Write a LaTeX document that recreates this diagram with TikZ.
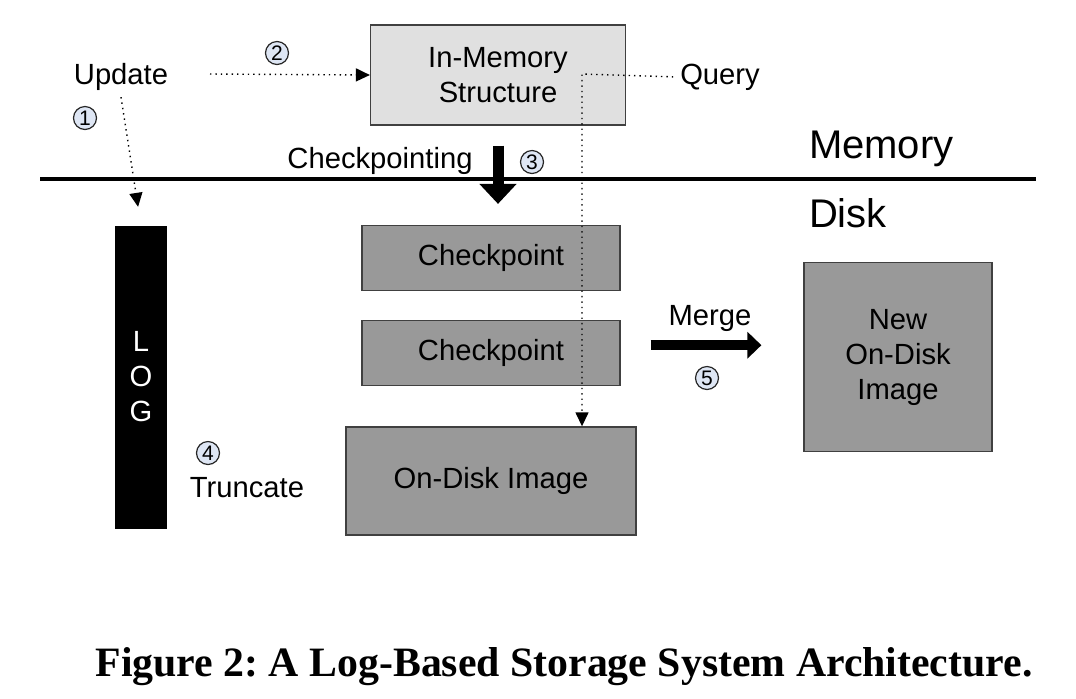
\documentclass[tikz,border=0pt]{standalone}
\usepackage{fontspec}
\setmainfont{Liberation Sans}
\newfontfamily\capfont{Liberation Serif}
\usetikzlibrary{arrows.meta,positioning}
\definecolor{memgray}{RGB}{224,224,224}
\definecolor{diskgray}{RGB}{153,153,153}
\definecolor{numblue}{RGB}{222,230,244}
\frenchspacing

\begin{document}
\begin{tikzpicture}[x=0.5pt,y=-0.5pt,
		font=\fontsize{14.6}{17.5}\selectfont,
		box/.style={draw=black!75,line width=0.6pt,align=center,inner sep=0pt},
		num/.style={circle,draw=black!85,fill=numblue,line width=0.6pt,inner sep=0pt,
			minimum size=11.5pt,font=\fontsize{10.5}{10.5}\selectfont},
		dotarrow/.style={dotted,line width=0.7pt,-{Triangle[length=7pt,width=6.5pt]}},
		fatarrow/.style={line width=5.5pt,-{Triangle[length=10pt,width=18pt]}},
		mergearrow/.style={line width=5pt,-{Triangle[length=7pt,width=13pt]}}]
				\useasboundingbox (0,0) rectangle (1076,698);
				% Memory part
				\node[box,fill=memgray,minimum width=127.5pt,minimum height=50pt] (mem) at (498,75) {In-Memory\\Structure};
				\node[anchor=base] (upd) at (121,84) {Update};
				\node[anchor=base] (qry) at (720,84) {Query};
				\node[anchor=base] (chk) at (380,168) {Checkpointing};
				\node[anchor=base west,font=\fontsize{20}{24}\selectfont] (memlbl) at (802,158) {Memory};
				\node[anchor=base west,font=\fontsize{20}{24}\selectfont] (disklbl) at (802,227) {Disk};
				% Line between memory and disk
				\coordinate (sepl) at (40,179);
				\coordinate (sepr) at (1036,179);
				\draw[line width=1.6pt] (sepl) -- (sepr);
				% Disk part
				\node[fill=black,draw=black,minimum width=25.5pt,minimum height=151pt,
					text=white,align=center,inner sep=0pt] (log) at (141,377) {L\\O\\G};
				\node[box,fill=diskgray,minimum width=129pt,minimum height=32.5pt] (cp1) at (491,258) {Checkpoint};
				\node[box,fill=diskgray,minimum width=129pt,minimum height=32.5pt] (cp2) [below=14.5pt of cp1] {Checkpoint};
				\node[box,fill=diskgray,minimum width=145pt,minimum height=54pt] (od) [below=20pt of cp2] {On-Disk Image};
				\node[box,fill=diskgray,minimum width=94pt,minimum height=94.5pt] (new) at (898,357) {New\\On-Disk\\Image};
				\node[anchor=base] (mrg) at (710,325) {Merge};
				\node[anchor=base] (trc) at (247,497) {Truncate};
				% Step numbers
				\node[num] (n1) at (85,118) {1};
				\node[num] (n2) at (277,53) {2};
				\node[num] (n3) at (532,162) {3};
				\node[num] (n4) at (208,453) {4};
				\node[num] (n5) at (707,378) {5};
				% Arrows
				\coordinate (updr) at (210,74);
				\draw[dotarrow] (updr) -- (mem.west);
				\draw[dotarrow,shorten >=9.5pt] (upd.south) -- (log.north);
				\coordinate (qx) at (582,74);
				\draw[dotarrow] (qry.west) -- (qx) -- (qx |- od.north);
				\draw[fatarrow,shorten <=10pt,shorten >=10.5pt] (mem.south) -- (mem.south |- cp1.north);
				\draw[mergearrow,shorten <=15pt,shorten >=21pt] ([yshift=4pt]cp2.east) -- ([yshift=4pt]cp2.east -| new.west);
				% Caption
				\node[anchor=base,font=\capfont\bfseries\fontsize{20.9}{24}\selectfont] (cap) at (564,676)
					{Figure 2: A Log-Based Storage System Architecture.};
			\end{tikzpicture}
\end{document}
